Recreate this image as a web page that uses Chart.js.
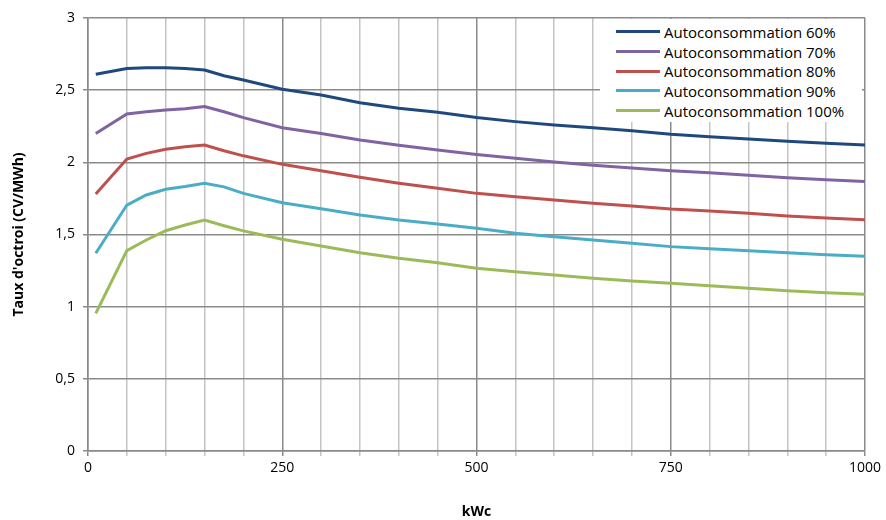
<!DOCTYPE html>
<html lang="fr">
<head>
    <meta charset="UTF-8">
    <title>Taux d'octroi</title>
    <script src="https://cdn.jsdelivr.net/npm/chart.js"></script>
    <style>
        body {
            margin: 0;
            background: #fff;
            font-family: 'Open Sans', sans-serif;
        }

        #wrap {
            position: relative;
            width: 886px;
            height: 520px;
        }

        #legende {
            position: absolute;
            left: 600px;
            top: 19px;
            width: 262px;
            height: 103px;
            background: #fff;
            padding-top: 3px;
            box-sizing: border-box;
        }

        .item {
            display: flex;
            align-items: center;
            height: 19.7px;
            font-size: 15px;
            color: #000;
        }

        .item span.trait {
            display: inline-block;
            width: 44px;
            height: 3px;
            margin-left: 16px;
            margin-right: 4px;
        }
    </style>
</head>
<body>
    <div id="wrap">
        <canvas id="graphe" width="886" height="520"></canvas>
        <div id="legende"></div>
    </div>
    <script>
        // puissance installée (kWc)
        const kwc = [10, 50, 75, 100, 125, 150, 175, 200, 250, 300, 350, 400, 450, 500,
            550, 600, 650, 700, 750, 800, 850, 900, 950, 1000];

        const auto60 = [2.61, 2.65, 2.655, 2.655, 2.65, 2.64, 2.60, 2.57, 2.506, 2.466, 2.413, 2.374, 2.347, 2.31,
            2.282, 2.259, 2.24, 2.219, 2.195, 2.178, 2.162, 2.146, 2.132, 2.12];
        const auto70 = [2.20, 2.335, 2.351, 2.363, 2.372, 2.386, 2.35, 2.31, 2.24, 2.20, 2.155, 2.118, 2.085, 2.055,
            2.028, 2.002, 1.979, 1.96, 1.942, 1.928, 1.91, 1.894, 1.88, 1.868];
        const auto80 = [1.78, 2.023, 2.062, 2.09, 2.108, 2.12, 2.08, 2.045, 1.986, 1.942, 1.896, 1.855, 1.82, 1.785,
            1.762, 1.739, 1.716, 1.698, 1.677, 1.663, 1.647, 1.628, 1.614, 1.603];
        const auto90 = [1.37, 1.704, 1.774, 1.813, 1.832, 1.855, 1.83, 1.785, 1.72, 1.679, 1.635, 1.60, 1.573, 1.543,
            1.508, 1.485, 1.462, 1.439, 1.416, 1.402, 1.388, 1.374, 1.36, 1.349];
        const auto100 = [0.954, 1.388, 1.462, 1.526, 1.566, 1.60, 1.561, 1.525, 1.467, 1.42, 1.374, 1.335, 1.305, 1.266,
            1.242, 1.219, 1.197, 1.178, 1.162, 1.145, 1.127, 1.111, 1.097, 1.086];

        const series = [
            { nom: 'Autoconsommation 60%', valeurs: auto60, couleur: '#1F497D' },
            { nom: 'Autoconsommation 70%', valeurs: auto70, couleur: '#8064A2' },
            { nom: 'Autoconsommation 80%', valeurs: auto80, couleur: '#C0504D' },
            { nom: 'Autoconsommation 90%', valeurs: auto90, couleur: '#4BACC6' },
            { nom: 'Autoconsommation 100%', valeurs: auto100, couleur: '#9BBB59' }
        ];

        const xLabels = [0, 250, 500, 750, 1000];
        const yTitre = "Taux d'octroi (CV/MWh)";
        const xTitre = 'kWc';

        const police = "'Open Sans', sans-serif";

        new Chart(document.getElementById('graphe'), {
            type: 'line',
            data: {
                datasets: series.map(s => ({
                    label: s.nom,
                    data: kwc.map((x, i) => ({ x: x, y: s.valeurs[i] })),
                    borderColor: s.couleur,
                    backgroundColor: s.couleur,
                    borderWidth: 3,
                    pointRadius: 0,
                    tension: 0
                }))
            },
            options: {
                responsive: false,
                animation: false,
                layout: { padding: { left: 0, right: 21, top: 18, bottom: 0 } },
                plugins: {
                    legend: { display: false },
                    tooltip: { enabled: false }
                },
                scales: {
                    x: {
                        type: 'linear',
                        min: 0,
                        max: 1000,
                        afterFit: s => { s.height = 69; },
                        ticks: {
                            stepSize: 50,
                            autoSkip: false,
                            maxRotation: 0,
                            padding: 4,
                            color: '#000',
                            font: { family: police, size: 14 },
                            callback: v => xLabels.includes(v) ? String(v) : ''
                        },
                        grid: {
                            color: c => (c.tick && c.tick.value % 250 === 0) ? '#8a8a8a' : '#c4c4c4',
                            lineWidth: 1.5,
                            tickLength: 5
                        },
                        border: { color: '#8a8a8a', width: 1.5 },
                        title: {
                            display: true,
                            text: xTitre,
                            color: '#000',
                            font: { family: police, size: 14, weight: 'bold' },
                            padding: { top: 0, bottom: 0 }
                        }
                    },
                    y: {
                        min: 0,
                        max: 3,
                        afterFit: s => { s.width = 88; },
                        ticks: {
                            stepSize: 0.5,
                            padding: 8,
                            color: '#000',
                            font: { family: police, size: 14 },
                            callback: v => String(v).replace('.', ',')
                        },
                        grid: {
                            color: '#8a8a8a',
                            lineWidth: 1.5,
                            tickLength: 5
                        },
                        border: { color: '#8a8a8a', width: 1.5 },
                        title: {
                            display: true,
                            text: yTitre,
                            color: '#000',
                            font: { family: police, size: 14, weight: 'bold' },
                            padding: { top: 11, bottom: 0 }
                        }
                    }
                }
            }
        });

        // légende dans la zone de tracé, comme dans l'original
        const leg = document.getElementById('legende');
        series.forEach(s => {
            const ligne = document.createElement('div');
            ligne.className = 'item';
            ligne.innerHTML = '<span class="trait" style="background:' + s.couleur + '"></span>' + s.nom;
            leg.appendChild(ligne);
        });
    </script>
</body>
</html>
